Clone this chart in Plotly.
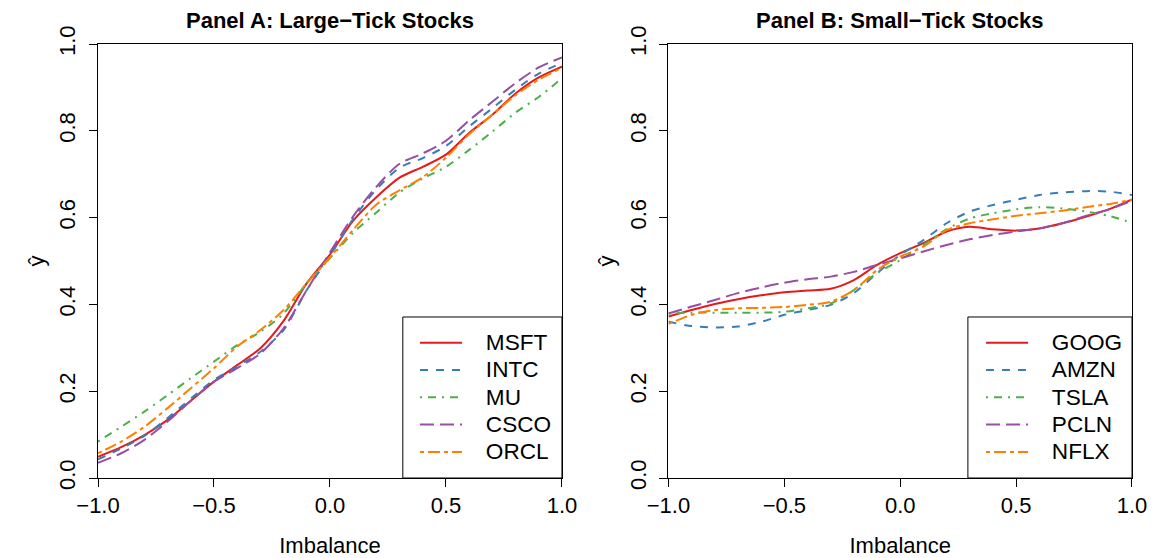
import plotly.graph_objects as go

# ---------------- data ----------------
imbalance = [-1.0, -0.9, -0.8, -0.7, -0.6, -0.5, -0.4, -0.3, -0.2, -0.1, 0.0,
             0.1, 0.2, 0.3, 0.4, 0.5, 0.6, 0.7, 0.8, 0.9, 1.0]

large_names = ["MSFT", "INTC", "MU", "CSCO", "ORCL"]
msft = [0.049, 0.071, 0.099, 0.134, 0.178, 0.222, 0.260, 0.299, 0.362, 0.449, 0.515,
        0.593, 0.647, 0.692, 0.717, 0.745, 0.795, 0.837, 0.886, 0.923, 0.948]
intc = [0.043, 0.068, 0.097, 0.138, 0.183, 0.226, 0.257, 0.291, 0.341, 0.433, 0.512,
        0.597, 0.665, 0.715, 0.737, 0.765, 0.810, 0.852, 0.895, 0.932, 0.956]
mu = [0.084, 0.118, 0.153, 0.191, 0.230, 0.268, 0.306, 0.337, 0.379, 0.449, 0.507,
      0.565, 0.612, 0.658, 0.690, 0.717, 0.756, 0.798, 0.842, 0.878, 0.921]
csco = [0.035, 0.057, 0.088, 0.130, 0.178, 0.222, 0.253, 0.287, 0.345, 0.433, 0.520,
        0.603, 0.671, 0.724, 0.748, 0.777, 0.824, 0.867, 0.910, 0.946, 0.969]
orcl = [0.057, 0.084, 0.118, 0.161, 0.207, 0.253, 0.303, 0.341, 0.387, 0.449, 0.508,
        0.572, 0.630, 0.663, 0.693, 0.738, 0.792, 0.837, 0.882, 0.918, 0.945]

small_names = ["GOOG", "AMZN", "TSLA", "PCLN", "NFLX"]
goog = [0.372, 0.387, 0.401, 0.412, 0.421, 0.428, 0.432, 0.436, 0.456, 0.491, 0.518,
        0.541, 0.568, 0.579, 0.573, 0.570, 0.575, 0.587, 0.602, 0.619, 0.642]
amzn = [0.360, 0.350, 0.347, 0.349, 0.360, 0.376, 0.387, 0.399, 0.426, 0.472, 0.514,
        0.548, 0.587, 0.614, 0.629, 0.641, 0.652, 0.658, 0.661, 0.660, 0.652]
tsla = [0.379, 0.381, 0.381, 0.381, 0.381, 0.383, 0.391, 0.402, 0.433, 0.472, 0.502,
        0.537, 0.573, 0.598, 0.610, 0.619, 0.624, 0.621, 0.614, 0.604, 0.588]
pcln = [0.379, 0.395, 0.410, 0.426, 0.439, 0.450, 0.458, 0.464, 0.475, 0.491, 0.506,
        0.522, 0.537, 0.550, 0.560, 0.568, 0.575, 0.587, 0.604, 0.619, 0.639]
nflx = [0.355, 0.376, 0.387, 0.391, 0.392, 0.394, 0.399, 0.406, 0.433, 0.479, 0.510,
        0.533, 0.571, 0.587, 0.596, 0.604, 0.610, 0.616, 0.624, 0.631, 0.641]

x_tickvals = [-1.0, -0.5, 0.0, 0.5, 1.0]
x_ticktext = ["\u22121.0", "\u22120.5", "0.0", "0.5", "1.0"]
y_tickvals = [0.0, 0.2, 0.4, 0.6, 0.8, 1.0]
y_ticktext = ["0.0", "0.2", "0.4", "0.6", "0.8", "1.0"]

panel_titles = ["Panel A: Large\u2212Tick Stocks", "Panel B: Small\u2212Tick Stocks"]

# ---------------- style ----------------
colors = ["#E41A1C", "#377EB8", "#4DAF4A", "#984EA3", "#FF7F00"]
dashes = ["solid", "8px,8px", "2px,6px,8px,6px", "14px,6px", "4px,4px,12px,4px"]
FONT = "Liberation Sans, Arial, Helvetica, sans-serif"
PAD = "\u00a0\u00a0\u00a0"


def legend_label(name):
    return '<span style="font-size:22.6px">' + PAD + name + "</span>"


fig = go.Figure()

large_series = [msft, intc, mu, csco, orcl]
small_series = [goog, amzn, tsla, pcln, nflx]

for i, (name, ys) in enumerate(zip(large_names, large_series)):
    fig.add_trace(go.Scatter(
        x=imbalance, y=ys, mode="lines", name=legend_label(name),
        line=dict(color=colors[i], width=2, dash=dashes[i], shape="spline", smoothing=0.8),
        xaxis="x", yaxis="y", legend="legend"))

for i, (name, ys) in enumerate(zip(small_names, small_series)):
    fig.add_trace(go.Scatter(
        x=imbalance, y=ys, mode="lines", name=legend_label(name),
        line=dict(color=colors[i], width=2, dash=dashes[i], shape="spline", smoothing=0.8),
        xaxis="x2", yaxis="y2", legend="legend2"))

axis_common = dict(
    showline=True, mirror=True, linecolor="black", linewidth=1,
    ticks="outside", ticklen=8, tickwidth=1, tickcolor="black",
    showgrid=False, zeroline=False,
    tickfont=dict(family=FONT, size=22, color="black"),
)

xcommon = dict(axis_common, range=[-1, 1], tickvals=x_tickvals, ticktext=x_ticktext,
               title=dict(text="Imbalance", font=dict(family=FONT, size=22, color="black"),
                          standoff=20))
ycommon = dict(axis_common, range=[0, 1], tickvals=y_tickvals, ticktext=y_ticktext,
               tickangle=-90, ticklabelstandoff=5,
               title=dict(text="\u0177", font=dict(family=FONT, size=22, color="black"),
                          standoff=4))

legend_common = dict(
    font=dict(family=FONT, size=18.7, color="black"),
    bgcolor="rgba(0,0,0,0)", borderwidth=0, itemwidth=42,
    xanchor="left", yanchor="top", tracegroupgap=0,
)

# page body has an 8px default margin, so the figure is laid out 8px up/left
fig.update_layout(
    width=1156, height=558,
    margin=dict(l=90, r=32, t=36, b=88),
    paper_bgcolor="white", plot_bgcolor="white",
    font=dict(family=FONT, size=22, color="black"),
    xaxis=dict(xcommon, domain=[0, 0.4487], anchor="y"),
    yaxis=dict(ycommon, domain=[0, 1], anchor="x"),
    xaxis2=dict(xcommon, domain=[0.5517, 1.0], anchor="y2"),
    yaxis2=dict(ycommon, domain=[0, 1], anchor="x2"),
    legend=dict(legend_common, x=0.3066, y=0.3548),
    legend2=dict(legend_common, x=0.854, y=0.3548),
    shapes=[
        dict(type="rect", xref="x domain", yref="y domain", x0=0.657, x1=1.0, y0=0.0, y1=0.371,
             line=dict(color="black", width=1), fillcolor="rgba(0,0,0,0)"),
        dict(type="rect", xref="x2 domain", yref="y2 domain", x0=0.646, x1=1.0, y0=0.0, y1=0.371,
             line=dict(color="black", width=1), fillcolor="rgba(0,0,0,0)"),
    ],
    annotations=[
        dict(text="<b>" + panel_titles[0] + "</b>", xref="x domain", yref="y domain",
             x=0.5, y=1.0, xanchor="center", yanchor="bottom", yshift=9, showarrow=False,
             font=dict(family=FONT, size=22, color="black")),
        dict(text="<b>" + panel_titles[1] + "</b>", xref="x2 domain", yref="y2 domain",
             x=0.5, y=1.0, xanchor="center", yanchor="bottom", yshift=9, showarrow=False,
             font=dict(family=FONT, size=22, color="black")),
    ],
)

fig.write_html("out.html")
